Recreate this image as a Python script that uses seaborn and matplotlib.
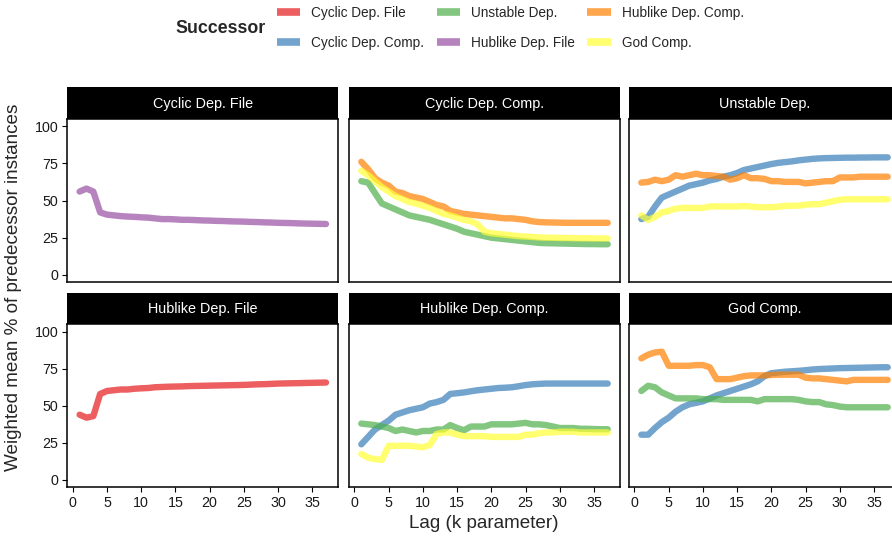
import pandas as pd
import seaborn as sns
import matplotlib.pyplot as plt
from matplotlib.lines import Line2D

# Smell types (facet = predecessor, colour = successor)
smells = ["Cyclic Dep. File", "Cyclic Dep. Comp.", "Unstable Dep.",
          "Hublike Dep. File", "Hublike Dep. Comp.", "God Comp."]
colors = ["#E41A1C", "#377EB8", "#4DAF4A", "#984EA3", "#FF7F00", "#FFFF33"]

lags = list(range(1, 38))
y_ticks = [0, 25, 50, 75, 100]
x_ticks = [0, 5, 10, 15, 20, 25, 30, 35]

# predecessor: Cyclic Dep. File
cdf_hdf = [56, 58, 56, 42, 40.5, 40, 39.5, 39.2, 39, 38.7, 38.5, 38, 37.5, 37.5, 37.3, 37, 37, 36.8, 36.6, 36.5,
           36.3, 36.2, 36, 35.9, 35.8, 35.6, 35.5, 35.3, 35.2, 35, 34.9, 34.8, 34.6, 34.5, 34.4, 34.3, 34.2]

# predecessor: Cyclic Dep. Comp.
cdc_ud = [63, 62, 55, 48, 46, 44, 42, 40, 39, 38, 37, 35.5, 34, 32.5, 31, 29, 28, 27, 26, 25,
          24.5, 24, 23.5, 23, 22.5, 22, 21.5, 21.3, 21.2, 21.1, 21, 20.9, 20.8, 20.7, 20.7, 20.6, 20.6]
cdc_hdc = [76, 71, 65, 62, 60, 56, 55, 53, 52, 51, 49, 47, 46, 43, 42, 41, 40.5, 40, 39.5, 39,
           38.5, 38, 38, 37.5, 37, 36, 35.5, 35.3, 35.2, 35.1, 35, 35, 35, 35, 35, 35, 35]
cdc_gc = [70, 67, 63, 59, 56, 53, 51, 49, 48, 46.5, 45, 43, 41, 40, 38.5, 37, 36, 34, 29, 28,
          27.5, 27, 26.5, 26, 25.8, 25.5, 25.2, 25, 25, 24.8, 24.8, 24.7, 24.6, 24.6, 24.5, 24.5, 24.5]

# predecessor: Unstable Dep.
ud_cdc = [37.5, 39, 46, 52, 54, 56, 58, 60, 61, 62, 63.5, 64.5, 66, 67, 68.5, 70.5, 71.5, 72.5, 73.5, 74.5,
          75.3, 75.8, 76.3, 77, 77.5, 78, 78.3, 78.5, 78.6, 78.7, 78.8, 78.8, 78.9, 78.9, 79, 79, 79]
ud_hdc = [62, 62.5, 64, 63, 64, 67, 66, 67, 68, 67, 67, 66.5, 66, 64, 65, 67, 65, 65, 64.5, 63,
          63, 62.5, 62.5, 62.5, 61.5, 62, 62.5, 63, 63, 65.5, 65.5, 65.5, 66, 66, 66, 66, 66]
ud_gc = [40, 37, 39, 42, 43, 44.5, 45, 45, 45, 45, 46, 46, 46, 46, 46, 46.3, 46, 45.5, 45.5, 45.5,
         45.8, 46.3, 46.5, 46.5, 47.2, 47.5, 47.5, 48.5, 49.5, 50.5, 50.8, 50.8, 50.8, 50.8, 50.8, 50.8, 50.8]

# predecessor: Hublike Dep. File
hdf_cdf = [44, 42, 43, 58, 60, 60.5, 61, 61, 61.5, 61.8, 62, 62.5, 62.7, 62.9, 63, 63.1, 63.3, 63.4, 63.5, 63.6,
           63.7, 63.8, 63.9, 64, 64.1, 64.3, 64.5, 64.6, 64.8, 65, 65.1, 65.2, 65.3, 65.4, 65.5, 65.6, 65.7]

# predecessor: Hublike Dep. Comp.
hdc_cdc = [24, 29, 34, 37, 40, 44, 45.5, 47, 48, 49, 51.5, 52.5, 54, 58, 58.5, 59, 59.8, 60.5, 61, 61.5,
           62, 62.2, 62.5, 63.2, 64, 64.5, 64.8, 65, 65, 65, 65, 65, 65, 65, 65, 65, 65]
hdc_ud = [38, 37.5, 37, 36, 35, 33, 34, 33, 32, 33, 33, 34, 34, 37, 35, 33.5, 36, 36, 36, 37.5,
          37.5, 37.5, 37.5, 38, 38.5, 37.5, 37.5, 37, 36, 35, 35, 35, 34.5, 34.5, 34.3, 34.2, 34.2]
hdc_gc = [17.5, 15, 14, 13.5, 23, 23, 23, 23, 22.5, 22, 23.5, 31, 32, 32, 30.5, 29.5, 29.5, 29.5, 29.5, 29,
          29, 29, 29, 29, 30.5, 30.5, 31.5, 32, 32, 32.5, 32.5, 32.5, 32, 32, 32, 32, 32]

# predecessor: God Comp.
gc_cdc = [30.5, 30.5, 35, 39, 42, 46, 49, 51, 52, 53, 55, 57, 58.5, 60, 61.5, 63, 64.5, 66.5, 70, 72,
          72.5, 73, 73.3, 73.6, 74, 74.5, 74.8, 75, 75.2, 75.4, 75.5, 75.6, 75.7, 75.8, 75.9, 76, 76]
gc_ud = [60, 63.5, 62.5, 59, 57, 55, 55, 55, 55, 54.5, 54.5, 54.5, 54, 54, 54, 54, 54, 53, 54.5, 54.5,
         54.5, 54.5, 54.5, 54, 53, 52.5, 52.5, 51, 50.5, 49.5, 49, 49, 49, 49, 49, 49, 49]
gc_hdc = [82, 84.5, 86, 86.5, 77, 77, 77, 77, 77.5, 77.5, 76, 68, 68, 68, 69, 70, 70.5, 70.5, 70.5, 70.8,
          71, 71, 71, 71, 69, 68.5, 68.5, 68, 67.5, 67, 66.5, 67.5, 67.5, 67.5, 67.5, 67.5, 67.5]

series = [
    ("Cyclic Dep. File", "Hublike Dep. File", cdf_hdf),
    ("Cyclic Dep. Comp.", "Unstable Dep.", cdc_ud),
    ("Cyclic Dep. Comp.", "Hublike Dep. Comp.", cdc_hdc),
    ("Cyclic Dep. Comp.", "God Comp.", cdc_gc),
    ("Unstable Dep.", "Cyclic Dep. Comp.", ud_cdc),
    ("Unstable Dep.", "Hublike Dep. Comp.", ud_hdc),
    ("Unstable Dep.", "God Comp.", ud_gc),
    ("Hublike Dep. File", "Cyclic Dep. File", hdf_cdf),
    ("Hublike Dep. Comp.", "Cyclic Dep. Comp.", hdc_cdc),
    ("Hublike Dep. Comp.", "Unstable Dep.", hdc_ud),
    ("Hublike Dep. Comp.", "God Comp.", hdc_gc),
    ("God Comp.", "Cyclic Dep. Comp.", gc_cdc),
    ("God Comp.", "Unstable Dep.", gc_ud),
    ("God Comp.", "Hublike Dep. Comp.", gc_hdc),
]

rows = []
for pred, succ, vals in series:
    for k, v in zip(lags, vals):
        rows.append({"predecessor": pred, "successor": succ, "lag": k, "value": v})
df = pd.DataFrame(rows)

sns.set_style("white")
plt.rcParams["font.family"] = ["Liberation Sans", "DejaVu Sans"]

W, H = 892, 540
fig = plt.figure(figsize=(W / 100, H / 100), dpi=100)


def box(x0, y0, x1, y1):
    # pixel box (top-left origin) -> figure fraction
    return [x0 / W, 1 - y1 / H, (x1 - x0) / W, (y1 - y0) / H]


col_x = [67.3, 349, 629]
pw = 271
row_y = [(87.3, 118.7, 282.3), (292.7, 324.3, 487.3)]
palette = dict(zip(smells, colors))

for i, pred in enumerate(smells):
    r, c = divmod(i, 3)
    x0 = col_x[c]
    s_top, p_top, p_bot = row_y[r]
    sub = df[df["predecessor"] == pred]

    ax = fig.add_axes(box(x0, p_top, x0 + pw, p_bot))
    sns.lineplot(data=sub, x="lag", y="value", hue="successor",
                 hue_order=[s for s in smells if s in sub["successor"].values],
                 palette=palette, alpha=0.7, linewidth=4.6, solid_capstyle="round",
                 solid_joinstyle="round", legend=False, ax=ax)
    ax.set_xlim(-0.8, 38.8)
    ax.set_ylim(-5, 105)
    ax.set_xticks(x_ticks)
    ax.set_yticks(y_ticks)
    ax.set_xlabel("")
    ax.set_ylabel("")
    for sp in ax.spines.values():
        sp.set_visible(True)
        sp.set_color("black")
        sp.set_linewidth(1.1)
    ax.tick_params(axis="both", direction="out", length=3.8, width=0.8, color="black",
                   labelsize=10.3, labelcolor="#1a1a1a", pad=2.5)
    ax.tick_params(left=(c == 0), labelleft=(c == 0), bottom=(r == 1), labelbottom=(r == 1))

    # facet strip
    sax = fig.add_axes(box(x0, s_top, x0 + pw, p_top))
    sax.set_facecolor("black")
    sax.set_xticks([])
    sax.set_yticks([])
    for sp in sax.spines.values():
        sp.set_visible(False)
    sax.text(0.5, 0.48, pred, color="white", fontsize=10.4, ha="center", va="center",
             transform=sax.transAxes)

fig.text(483.6 / W, 1 - 524 / H, "Lag (k parameter)", ha="center", va="center", fontsize=13.6)
fig.text(14 / W, 1 - 287 / H, "Weighted mean % of predecessor instances", ha="center", va="center",
         rotation=90, fontsize=13.6)

# legend
handles = [Line2D([0], [0], color=col, lw=5.5, alpha=0.7, solid_capstyle="butt") for col in colors]
fig.legend(handles, smells, ncol=3, loc="center left", bbox_to_anchor=(276.7 / W, 1 - 27.7 / H),
           frameon=False, fontsize=9.8, handlelength=1.7, handletextpad=0.85, columnspacing=0.9,
           labelspacing=1.2, borderpad=0, borderaxespad=0)
fig.text(175 / W, 1 - 28.3 / H, "Successor", fontweight="bold", fontsize=12.8, ha="left", va="center")

fig.savefig("out.png", dpi=100)
